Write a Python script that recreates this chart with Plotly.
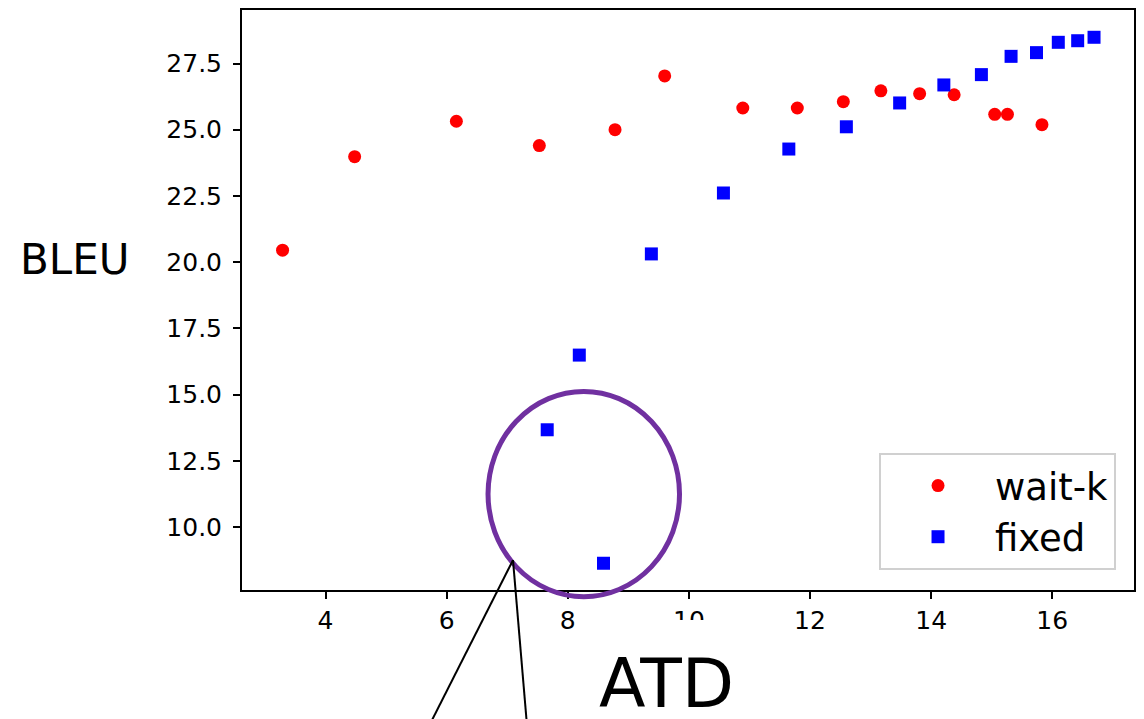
import plotly.graph_objects as go

# wait-k series (ATD, BLEU)
waitk_atd = [3.29, 4.48, 6.16, 7.53, 8.78, 9.60, 10.89, 11.79, 12.55, 13.17, 13.81, 14.38, 15.05, 15.26, 15.83]
waitk_bleu = [20.45, 23.98, 25.32, 24.40, 25.00, 27.03, 25.82, 25.82, 26.06, 26.47, 26.36, 26.32, 25.58, 25.58, 25.19]

# fixed series (ATD, BLEU)
fixed_atd = [8.59, 7.66, 8.19, 9.38, 10.57, 11.65, 12.60, 13.48, 14.21, 14.83, 15.32, 15.74, 16.10, 16.42, 16.69]
fixed_bleu = [8.63, 13.67, 16.49, 20.31, 22.61, 24.27, 25.11, 26.01, 26.69, 27.08, 27.77, 27.91, 28.30, 28.36, 28.49]

x_ticks = [4, 6, 8, 10, 12, 14, 16]
y_ticks = [10.0, 12.5, 15.0, 17.5, 20.0, 22.5, 25.0, 27.5]

W, H = 1144, 719
L, R, T, B = 242, 9, 8, 129
PW, PH = W - L - R, H - T - B


def px(x):
    return (x - L) / PW


def py(y):
    return (H - B - y) / PH


FONT = "DejaVu Sans"

fig = go.Figure()
fig.add_trace(go.Scatter(x=waitk_atd, y=waitk_bleu, mode="markers", name="wait-k",
                         marker=dict(color="#ff0000", size=13, symbol="circle", line=dict(width=0))))
fig.add_trace(go.Scatter(x=fixed_atd, y=fixed_bleu, mode="markers", name="fixed",
                         marker=dict(color="#0000ff", size=13, symbol="square", line=dict(width=0))))

fig.update_layout(
    width=W, height=H,
    margin=dict(l=L, r=R, t=T, b=B),
    paper_bgcolor="white", plot_bgcolor="white",
    font=dict(family=FONT, color="black"),
    legend=dict(x=px(1117), y=py(570), xanchor="right", yanchor="bottom",
                bgcolor="white", bordercolor="#d0d0d0", borderwidth=2,
                font=dict(size=37, family=FONT), itemwidth=104),
    showlegend=True,
)
fig.update_xaxes(range=[2.62, 17.35], tickvals=x_ticks, ticktext=[str(v) for v in x_ticks],
                 showgrid=False, zeroline=False, showline=True, linecolor="black", linewidth=2,
                 mirror=True, ticks="outside", ticklen=7, tickwidth=2, tickcolor="black",
                 tickfont=dict(size=25, family=FONT))
fig.update_yaxes(range=[7.62, 29.52], tickvals=y_ticks, ticktext=[f"{v:.1f}" for v in y_ticks],
                 showgrid=False, zeroline=False, showline=True, linecolor="black", linewidth=2,
                 mirror=True, ticks="outside", ticklen=7, tickwidth=2, tickcolor="black",
                 tickfont=dict(size=25, family=FONT), ticklabelstandoff=6)

shapes = [
    # white box partly hiding the "10" tick label behind the axis title
    dict(type="rect", xref="paper", yref="paper", x0=px(590), x1=px(780), y0=py(620), y1=py(740),
         fillcolor="white", line=dict(width=0), layer="above"),
    # purple ellipse highlighting low-latency fixed points
    dict(type="circle", xref="paper", yref="paper", x0=px(488.3), x1=px(680), y0=py(596.7), y1=py(390.7),
         line=dict(color="#7030A0", width=5), layer="above"),
    dict(type="line", xref="paper", yref="paper", x0=px(513.3), y0=py(560), x1=px(422.4), y1=py(740),
         line=dict(color="black", width=2), layer="above"),
    dict(type="line", xref="paper", yref="paper", x0=px(513.3), y0=py(560), x1=px(528.5), y1=py(740),
         line=dict(color="black", width=2), layer="above"),
]
fig.update_layout(shapes=shapes)

fig.add_annotation(text="ATD", xref="paper", yref="paper", x=px(667), y=py(684),
                   xanchor="center", yanchor="middle", showarrow=False,
                   font=dict(size=68, family=FONT, color="black"))
fig.add_annotation(text="BLEU", xref="paper", yref="paper", x=px(75), y=py(258),
                   xanchor="center", yanchor="middle", showarrow=False,
                   font=dict(size=42, family=FONT, color="black"))

fig.write_html("out.html", config={"displayModeBar": False},
               post_script="document.body.style.margin='0';document.body.style.overflow='hidden';")
